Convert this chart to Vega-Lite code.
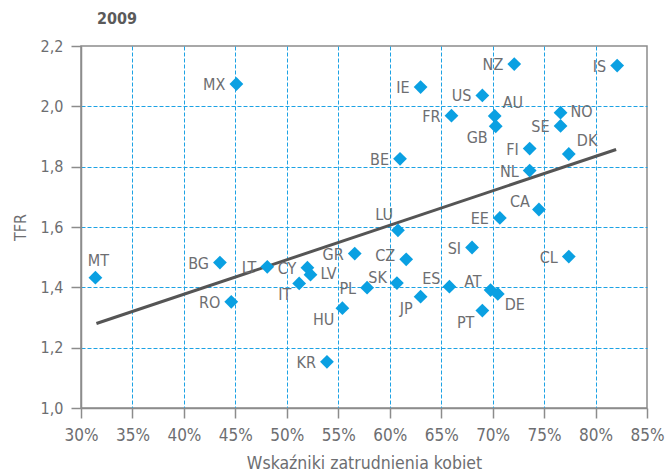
{
  "$schema": "https://vega.github.io/schema/vega-lite/v6.json",
  "width": 566,
  "height": 362,
  "autosize": {"type": "none"},
  "padding": {"left": 81, "top": 46, "right": 18, "bottom": 65},
  "title": {"text": "2009", "anchor": "start", "frame": "group", "dx": 16, "offset": 11, "fontSize": 16, "fontWeight": "bold", "color": "#5a5a5a", "font": "Liberation Sans Narrow, DejaVu Sans Condensed, Open Sans, sans-serif"},
  "datasets": {
    "pts": [
      {"kraj": "NZ", "zatr": 72.1, "tfr": 2.14, "pos": "L"},
      {"kraj": "IS", "zatr": 82.1, "tfr": 2.135, "pos": "L"},
      {"kraj": "MX", "zatr": 45.1, "tfr": 2.074, "pos": "L"},
      {"kraj": "IE", "zatr": 63.0, "tfr": 2.064, "pos": "L"},
      {"kraj": "US", "zatr": 69.0, "tfr": 2.036, "pos": "L"},
      {"kraj": "AU", "zatr": 70.2, "tfr": 1.968, "pos": "TR"},
      {"kraj": "GB", "zatr": 70.3, "tfr": 1.934, "pos": "BL"},
      {"kraj": "FR", "zatr": 66.0, "tfr": 1.969, "pos": "L"},
      {"kraj": "NO", "zatr": 76.6, "tfr": 1.979, "pos": "R"},
      {"kraj": "SE", "zatr": 76.6, "tfr": 1.935, "pos": "L"},
      {"kraj": "FI", "zatr": 73.6, "tfr": 1.86, "pos": "L"},
      {"kraj": "DK", "zatr": 77.4, "tfr": 1.842, "pos": "TR"},
      {"kraj": "BE", "zatr": 61.0, "tfr": 1.826, "pos": "L"},
      {"kraj": "NL", "zatr": 73.6, "tfr": 1.787, "pos": "L"},
      {"kraj": "CA", "zatr": 74.5, "tfr": 1.658, "pos": "TL"},
      {"kraj": "EE", "zatr": 70.7, "tfr": 1.63, "pos": "L"},
      {"kraj": "LU", "zatr": 60.8, "tfr": 1.589, "pos": "TLL"},
      {"kraj": "SI", "zatr": 68.0, "tfr": 1.532, "pos": "L"},
      {"kraj": "CL", "zatr": 77.4, "tfr": 1.502, "pos": "L"},
      {"kraj": "MT", "zatr": 31.4, "tfr": 1.432, "pos": "T"},
      {"kraj": "BG", "zatr": 43.5, "tfr": 1.482, "pos": "L"},
      {"kraj": "LT", "zatr": 48.1, "tfr": 1.468, "pos": "L"},
      {"kraj": "GR", "zatr": 56.6, "tfr": 1.512, "pos": "L"},
      {"kraj": "CZ", "zatr": 61.6, "tfr": 1.493, "pos": "LH"},
      {"kraj": "CY", "zatr": 52.0, "tfr": 1.465, "pos": "L"},
      {"kraj": "LV", "zatr": 52.3, "tfr": 1.442, "pos": "R"},
      {"kraj": "IT", "zatr": 51.2, "tfr": 1.413, "pos": "BL"},
      {"kraj": "SK", "zatr": 60.7, "tfr": 1.414, "pos": "TS"},
      {"kraj": "PL", "zatr": 57.8, "tfr": 1.399, "pos": "L"},
      {"kraj": "ES", "zatr": 65.8, "tfr": 1.402, "pos": "TL"},
      {"kraj": "AT", "zatr": 69.8, "tfr": 1.391, "pos": "TL"},
      {"kraj": "DE", "zatr": 70.5, "tfr": 1.378, "pos": "BR"},
      {"kraj": "RO", "zatr": 44.6, "tfr": 1.352, "pos": "L"},
      {"kraj": "JP", "zatr": 63.0, "tfr": 1.369, "pos": "BL"},
      {"kraj": "HU", "zatr": 55.4, "tfr": 1.331, "pos": "BL"},
      {"kraj": "PT", "zatr": 69.0, "tfr": 1.323, "pos": "BL"},
      {"kraj": "KR", "zatr": 53.9, "tfr": 1.153, "pos": "L"}
    ],
    "trend": [
      {"zatr": 31.5, "tfr": 1.28},
      {"zatr": 82.0, "tfr": 1.857}
    ]
  },
  "encoding": {
    "x": {"field": "zatr", "type": "quantitative", "scale": {"domain": [30, 85], "nice": false, "zero": false},
      "axis": {"values": [30, 35, 40, 45, 50, 55, 60, 65, 70, 75, 80, 85], "labelExpr": "datum.value + '%'", "title": "Wskaźniki zatrudnienia kobiet",
        "labelFontSize": 17, "labelPadding": 9, "titleFontSize": 17.5, "titlePadding": 11,
        "gridOpacity": {"condition": {"test": "datum.value < 31 || datum.value > 84", "value": 0}, "value": 1}}},
    "y": {"field": "tfr", "type": "quantitative", "scale": {"domain": [1.0, 2.2], "nice": false, "zero": false},
      "axis": {"values": [1.0, 1.2, 1.4, 1.6, 1.8, 2.0, 2.2], "labelExpr": "replace(format(datum.value, '.1f'), '.', ',')", "title": "TFR",
        "gridOpacity": {"condition": {"test": "datum.value < 1.05 || datum.value > 2.15", "value": 0}, "value": 1}}}
  },
  "layer": [
    {"data": {"name": "trend"}, "mark": {"type": "line", "color": "#555555", "strokeWidth": 3}, "encoding": {}},
    {"data": {"name": "pts"}, "mark": {"type": "point", "shape": "diamond", "filled": true, "size": 190, "color": "#0aa0e2", "opacity": 1}},
    {"data": {"name": "pts"}, "transform": [{"filter": "datum.pos == 'L'"}], "mark": {"type": "text", "align": "right", "baseline": "middle", "dx": -11, "dy": 1}, "encoding": {"text": {"field": "kraj"}}},
    {"data": {"name": "pts"}, "transform": [{"filter": "datum.pos == 'LH'"}], "mark": {"type": "text", "align": "right", "baseline": "middle", "dx": -11, "dy": -3}, "encoding": {"text": {"field": "kraj"}}},
    {"data": {"name": "pts"}, "transform": [{"filter": "datum.pos == 'TS'"}], "mark": {"type": "text", "align": "right", "baseline": "middle", "dx": -10, "dy": -5}, "encoding": {"text": {"field": "kraj"}}},
    {"data": {"name": "pts"}, "transform": [{"filter": "datum.pos == 'TL'"}], "mark": {"type": "text", "align": "right", "baseline": "middle", "dx": -9, "dy": -8}, "encoding": {"text": {"field": "kraj"}}},
    {"data": {"name": "pts"}, "transform": [{"filter": "datum.pos == 'TLL'"}], "mark": {"type": "text", "align": "right", "baseline": "middle", "dx": -5, "dy": -15}, "encoding": {"text": {"field": "kraj"}}},
    {"data": {"name": "pts"}, "transform": [{"filter": "datum.pos == 'BL'"}], "mark": {"type": "text", "align": "right", "baseline": "middle", "dx": -8, "dy": 12}, "encoding": {"text": {"field": "kraj"}}},
    {"data": {"name": "pts"}, "transform": [{"filter": "datum.pos == 'BR'"}], "mark": {"type": "text", "align": "left", "baseline": "middle", "dx": 7, "dy": 11}, "encoding": {"text": {"field": "kraj"}}},
    {"data": {"name": "pts"}, "transform": [{"filter": "datum.pos == 'TR'"}], "mark": {"type": "text", "align": "left", "baseline": "middle", "dx": 8, "dy": -13}, "encoding": {"text": {"field": "kraj"}}},
    {"data": {"name": "pts"}, "transform": [{"filter": "datum.pos == 'R'"}], "mark": {"type": "text", "align": "left", "baseline": "middle", "dx": 10, "dy": -1}, "encoding": {"text": {"field": "kraj"}}},
    {"data": {"name": "pts"}, "transform": [{"filter": "datum.pos == 'T'"}], "mark": {"type": "text", "align": "center", "baseline": "middle", "dx": 3, "dy": -17}, "encoding": {"text": {"field": "kraj"}}}
  ],
  "config": {
    "font": "Liberation Sans Narrow, DejaVu Sans Condensed, Open Sans, sans-serif",
    "view": {"stroke": "#8c8c8c", "strokeWidth": 1.5},
    "text": {"fontSize": 16, "color": "#6d6e71", "font": "Liberation Sans Narrow, DejaVu Sans Condensed, Open Sans, sans-serif"},
    "axis": {
      "grid": true, "gridColor": "#1da2e4", "gridDash": [4, 2], "gridWidth": 1,
      "domainColor": "#8c8c8c", "domainWidth": 1.5, "tickColor": "#8c8c8c", "tickWidth": 1.5, "tickSize": 10,
      "labelFontSize": 16, "labelColor": "#6d6e71", "labelPadding": 8, "labelFlush": false,
      "titleFontSize": 16, "titleColor": "#6d6e71", "titleFontWeight": "normal",
      "labelFont": "Liberation Sans Narrow, DejaVu Sans Condensed, Open Sans, sans-serif",
      "titleFont": "Liberation Sans Narrow, DejaVu Sans Condensed, Open Sans, sans-serif"
    },
    "axisY": {"titlePadding": 12}
  }
}
